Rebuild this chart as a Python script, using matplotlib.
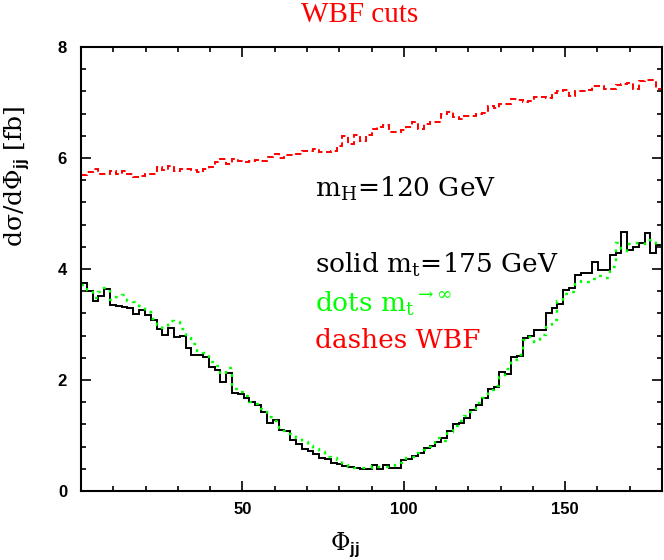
import numpy as np
import matplotlib
matplotlib.use('Agg')
import matplotlib.pyplot as plt
from matplotlib.ticker import MultipleLocator

# 100 bins of 1.8 degrees in Phi_jj
PHI_EDGES = np.linspace(0, 180, 101)

# solid: m_t = 175 GeV
SOLID_MT175 = [
    3.74, 3.60, 3.43, 3.52, 3.64, 3.36, 3.34, 3.32, 3.30, 3.19,
    3.27, 3.17, 3.08, 2.92, 2.81, 2.93, 2.78, 2.80, 2.58, 2.45,
    2.45, 2.41, 2.24, 2.18, 1.97, 2.13, 1.76, 1.75, 1.68, 1.60,
    1.55, 1.42, 1.22, 1.28, 1.10, 1.08, 0.92, 0.84, 0.76, 0.72,
    0.67, 0.59, 0.57, 0.50, 0.48, 0.45, 0.43, 0.42, 0.39, 0.40,
    0.47, 0.39, 0.47, 0.41, 0.42, 0.56, 0.57, 0.63, 0.69, 0.77,
    0.81, 0.89, 0.95, 1.08, 1.20, 1.22, 1.31, 1.46, 1.55, 1.68,
    1.83, 1.88, 2.15, 2.10, 2.42, 2.43, 2.75, 2.79, 2.90, 2.90,
    3.21, 3.30, 3.37, 3.62, 3.65, 3.89, 3.92, 3.93, 4.13, 3.99,
    3.99, 4.25, 4.29, 4.67, 4.35, 4.40, 4.46, 4.64, 4.29, 4.43,
]

# dots: m_t -> infinity
DOTS_MTINF = [
    3.71, 3.62, 3.47, 3.58, 3.65, 3.45, 3.50, 3.53, 3.43, 3.41,
    3.33, 3.22, 3.10, 3.00, 2.93, 3.06, 3.04, 2.91, 2.76, 2.64,
    2.53, 2.49, 2.33, 2.25, 2.10, 2.22, 1.83, 1.78, 1.72, 1.61,
    1.57, 1.48, 1.33, 1.27, 1.14, 1.09, 1.02, 0.95, 0.89, 0.81,
    0.76, 0.70, 0.62, 0.59, 0.56, 0.47, 0.44, 0.42, 0.41, 0.41,
    0.45, 0.43, 0.44, 0.43, 0.47, 0.50, 0.60, 0.62, 0.68, 0.74,
    0.80, 0.96, 0.90, 1.07, 1.17, 1.26, 1.35, 1.42, 1.58, 1.67,
    1.82, 1.90, 2.05, 2.20, 2.36, 2.45, 2.72, 2.77, 2.69, 2.81,
    2.95, 3.09, 3.43, 3.55, 3.59, 3.74, 3.78, 3.76, 3.82, 3.87,
    3.83, 4.04, 4.47, 4.33, 4.45, 4.46, 4.45, 4.48, 4.52, 4.41,
]

# dashes: WBF
DASH_WBF = [
    5.70, 5.75, 5.80, 5.72, 5.71, 5.77, 5.72, 5.77, 5.72, 5.66,
    5.68, 5.71, 5.72, 5.84, 5.78, 5.86, 5.77, 5.80, 5.80, 5.79,
    5.74, 5.80, 5.84, 5.92, 5.98, 5.89, 5.98, 5.95, 5.93, 5.94,
    5.96, 5.95, 6.02, 6.07, 6.00, 6.05, 6.06, 6.08, 6.13, 6.13,
    6.16, 6.11, 6.10, 6.12, 6.22, 6.40, 6.25, 6.42, 6.30, 6.42,
    6.53, 6.56, 6.60, 6.47, 6.47, 6.50, 6.56, 6.64, 6.52, 6.61,
    6.65, 6.65, 6.80, 6.82, 6.74, 6.70, 6.76, 6.76, 6.80, 6.81,
    6.94, 6.90, 6.97, 6.97, 7.06, 7.05, 7.01, 7.03, 7.10, 7.10,
    7.09, 7.17, 7.20, 7.23, 7.12, 7.20, 7.20, 7.23, 7.30, 7.29,
    7.24, 7.24, 7.32, 7.33, 7.36, 7.25, 7.38, 7.41, 7.41, 7.25,
]

plt.rcParams['font.family'] = ['Liberation Sans', 'DejaVu Sans']
plt.rcParams['mathtext.fontset'] = 'custom'
plt.rcParams['mathtext.rm'] = 'DejaVu Serif'
plt.rcParams['mathtext.bf'] = 'Liberation Sans:bold'

fig = plt.figure(figsize=(6.64, 5.60), dpi=100)
ax = fig.add_axes([81/664, 69/560, 581/664, 444/560])

ax.stairs(SOLID_MT175, PHI_EDGES, baseline=None, color='black', lw=1.4)
ax.stairs(DOTS_MTINF, PHI_EDGES, baseline=None, color='#00ff00', lw=1.7,
          linestyle=(0, (1.2, 2.6)))
ax.stairs(DASH_WBF, PHI_EDGES, baseline=None, color='#ff0000', lw=1.4,
          linestyle=(0, (3.2, 1.8)))

ax.set_xlim(0, 180)
ax.set_ylim(0, 8)
ax.set_xticks([50, 100, 150])
ax.xaxis.set_minor_locator(MultipleLocator(10))
ax.yaxis.set_major_locator(MultipleLocator(2))
ax.yaxis.set_minor_locator(MultipleLocator(0.4))
ax.tick_params(which='both', direction='in', top=True, right=True, width=1.2)
ax.tick_params(which='major', length=7, labelsize=12)
ax.tick_params(axis='y', which='major', pad=10)
ax.tick_params(axis='x', which='major', pad=8)
ax.tick_params(which='minor', length=3.5)
for lab in ax.get_xticklabels() + ax.get_yticklabels():
    lab.set_fontweight('bold')
for s in ax.spines.values():
    s.set_linewidth(1.5)

serif = {'family': 'DejaVu Serif', 'size': 19}
ax.text(72.5, 5.30, r'm$_{\mathrm{H}}$=120 GeV', color='black', **serif)
ax.text(72.5, 3.93, r'solid m$_{\mathrm{t}}$=175 GeV', color='black', **serif)
ax.text(72.5, 3.24, r'dots m$_{\mathrm{t}}$$^{\rightarrow\infty}$', color='#00ff00', **serif)
ax.text(72.5, 2.57, 'dashes WBF', color='#ff0000', **serif)

fig.text(0.541, 0.961, 'WBF cuts', color='#ff0000', ha='center', va='baseline',
         family='Liberation Serif', fontsize=21)
fig.text(0.025, 0.685, 'd\u03c3/d\u03a6$_{\\mathbf{jj}}$ [fb]', rotation=90,
         ha='center', va='center', family='DejaVu Serif', fontsize=18)
fig.text(0.52, 0.028, '\u03a6$_{\\mathbf{jj}}$', ha='center', va='center',
         family='DejaVu Serif', fontsize=17)

plt.savefig('out.png', dpi=100)
